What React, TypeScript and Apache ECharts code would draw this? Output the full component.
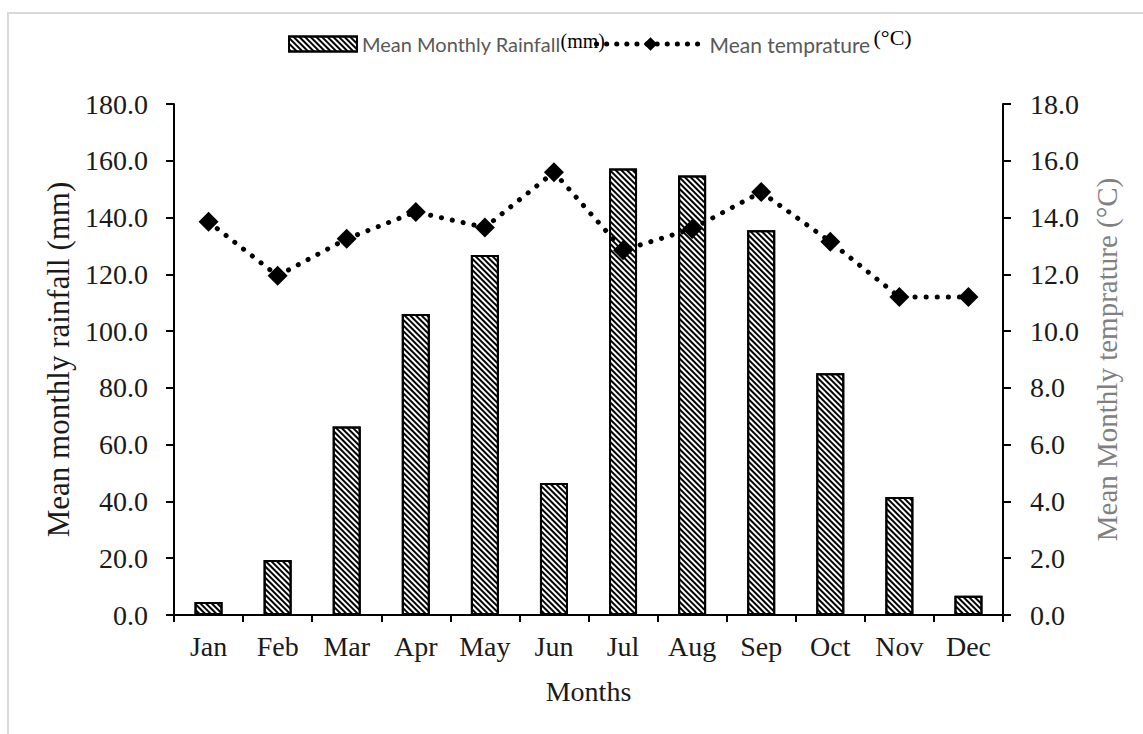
import React, { useEffect, useRef } from "react";
import * as echarts from "echarts";

const months = ["Jan", "Feb", "Mar", "Apr", "May", "Jun", "Jul", "Aug", "Sep", "Oct", "Nov", "Dec"];
const rainfall = [4.6, 19.4, 66.4, 106.0, 126.8, 46.5, 157.3, 154.8, 135.5, 85.2, 41.6, 6.8];
const temperature = [13.85, 11.95, 13.25, 14.2, 13.65, 15.6, 12.85, 13.6, 14.9, 13.15, 11.2, 11.2];
const rainTicks = { min: 0, max: 180, interval: 20 };
const tempTicks = { min: 0, max: 18, interval: 2 };
const rainName = "Mean Monthly Rainfall";
const tempName = "Mean temprature";

const serif = "'Liberation Serif', 'Times New Roman', serif";

export default function App() {
  const ref = useRef<HTMLDivElement>(null);
  useEffect(() => {
    if (!ref.current) return;
    const chart = echarts.init(ref.current, undefined, { renderer: "svg" });
    const axisLine = { show: true, lineStyle: { color: "#000", width: 2 } };
    const labelStyle = { fontFamily: serif, fontSize: 28, color: "#1a1a1a" };
    const dotted = { color: "#000", width: 5, type: [0.1, 11], cap: "round" };
    const legendRich = {
      a: { fontFamily: "Lato, 'Open Sans', sans-serif", fontSize: 20, color: "#595959" },
      b: { fontFamily: serif, fontSize: 20, color: "#000", padding: [0, 0, 6, 0] },
      c: { fontFamily: serif, fontSize: 22, color: "#000", padding: [0, 0, 14, 0] },
    };
    chart.setOption({
      animation: false,
      backgroundColor: "#fff",
      graphic: [
        {
          type: "rect",
          shape: { x: 8, y: 13, width: 1200, height: 800 },
          style: { fill: "none", stroke: "#d9d9d9", lineWidth: 2 },
          silent: true,
        },
      ],
      legend: [
        {
          top: 26,
          left: 283,
          itemWidth: 68,
          itemHeight: 15,
          data: [{ name: rainName, icon: "rect" }],
          formatter: (n: string) => `{a|${n}}{b|(mm)}`,
          textStyle: { rich: legendRich },
        },
        {
          top: 21,
          left: 589,
          itemWidth: 108,
          itemHeight: 17,
          data: [
            {
              name: tempName,
              itemStyle: { color: "#000" },
              lineStyle: { ...dotted, type: [0.1, 10] },
            },
          ],
          formatter: (n: string) => `{a|${n}} {c|(°C)}`,
          textStyle: { rich: { ...legendRich, a: { ...legendRich.a, fontSize: 21 } } },
        },
      ],
      grid: { left: 174, right: 140, top: 104, bottom: 119 },
      xAxis: {
        type: "category",
        data: months,
        axisLine,
        axisTick: { show: true, length: 7, lineStyle: { color: "#000", width: 2 } },
        axisLabel: { ...labelStyle, margin: 17 },
        name: "Months",
        nameLocation: "middle",
        nameGap: 62,
        nameTextStyle: { fontFamily: serif, fontSize: 28, color: "#1a1a1a" },
      },
      yAxis: [
        {
          type: "value",
          ...rainTicks,
          axisLine,
          axisTick: { show: true, length: 8, lineStyle: { color: "#000", width: 2 } },
          splitLine: { show: false },
          axisLabel: { ...labelStyle, margin: 26, formatter: (v: number) => v.toFixed(1) },
          name: "Mean monthly rainfall (mm)",
          nameLocation: "middle",
          nameGap: 96,
          nameTextStyle: { fontFamily: serif, fontSize: 31, color: "#1a1a1a" },
        },
        {
          type: "value",
          ...tempTicks,
          position: "right",
          axisLine,
          axisTick: { show: true, length: 8, lineStyle: { color: "#000", width: 2 } },
          splitLine: { show: false },
          axisLabel: { ...labelStyle, margin: 27, formatter: (v: number) => v.toFixed(1) },
          name: "Mean Monthly temprature (°C)",
          nameLocation: "middle",
          nameGap: 89,
          nameTextStyle: { fontFamily: serif, fontSize: 29, color: "#808080" },
        },
      ],
      series: [
        {
          name: rainName,
          type: "bar",
          data: rainfall,
          barWidth: 28,
          itemStyle: {
            color: "#fff",
            borderColor: "#000",
            borderWidth: 2,
            decal: {
              symbol: "rect",
              symbolSize: 1,
              color: "#000",
              dashArrayX: [1, 0],
              dashArrayY: [1.5, 1.5],
              rotation: Math.PI / 4,
            },
          },
        },
        {
          name: tempName,
          type: "line",
          yAxisIndex: 1,
          data: temperature,
          symbol: "diamond",
          symbolSize: 20,
          itemStyle: { color: "#000" },
          lineStyle: dotted,
          z: 5,
        },
      ],
    });
    return () => chart.dispose();
  }, []);
  return (
    <div
      ref={ref}
      style={{ position: "fixed", left: 0, top: 0, width: 1143, height: 734 }}
    />
  );
}
